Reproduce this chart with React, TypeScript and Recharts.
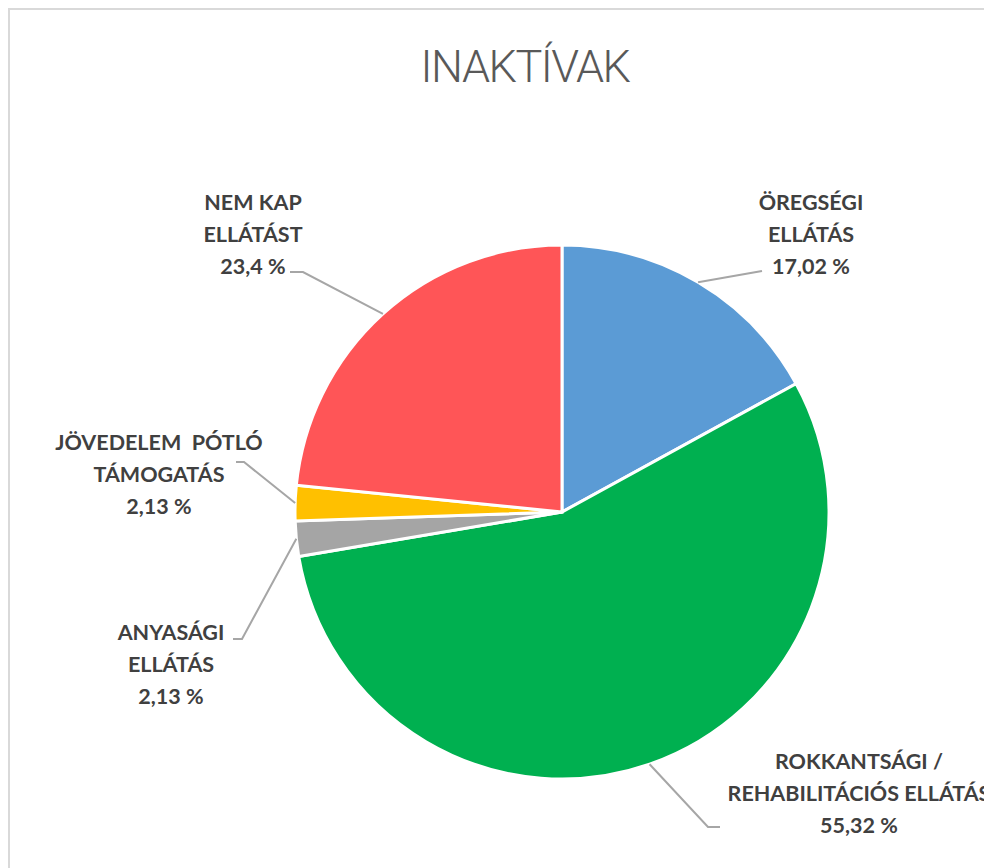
import { PieChart, Pie, Cell } from "recharts";

const categories = [
  ["ÖREGSÉGI", "ELLÁTÁS"],
  ["ROKKANTSÁGI /", "REHABILITÁCIÓS ELLÁTÁS"],
  ["ANYASÁGI", "ELLÁTÁS"],
  ["JÖVEDELEM  PÓTLÓ", "TÁMOGATÁS"],
  ["NEM KAP", "ELLÁTÁST"],
];
const values = [17.02, 55.32, 2.13, 2.13, 23.4];
const valueLabels = ["17,02 %", "55,32 %", "2,13 %", "2,13 %", "23,4 %"];

const COLORS = ["#5B9BD5", "#00B050", "#A5A5A5", "#FFC000", "#FF5557"];

// label block (first baseline, relative to pie centre) and leader elbow points
const LABEL_LAYOUT = [
  { dx: 249, dy: -302, line: [[200, -241]] },
  { dx: 297, dy: 257, line: [[146, 315], [158, 315]] },
  { dx: -391, dy: 128, line: [[-320, 127], [-329, 127]] },
  { dx: -403, dy: -62, line: [[-318, -50], [-326, -50]] },
  { dx: -309, dy: -302, line: [[-259, -240], [-272, -240]] },
];

const data = values.map((v, i) => ({ name: categories[i].join(" "), value: v }));

const RADIAN = Math.PI / 180;
const CX = 562;
const CY = 512;

function renderLabel(props: any) {
  const { cx, cy, midAngle, outerRadius, index } = props;
  const lay = LABEL_LAYOUT[index];
  const ex = cx + outerRadius * Math.cos(-midAngle * RADIAN);
  const ey = cy + outerRadius * Math.sin(-midAngle * RADIAN);
  const pts = [[ex, ey], ...lay.line.map(([x, y]) => [cx + x, cy + y])];
  const lines = [...categories[index], valueLabels[index]];
  const tx = cx + lay.dx;
  const ty = cy + lay.dy;
  return (
    <g key={`lbl-${index}`}>
      <polyline
        points={pts.map((p) => p.join(",")).join(" ")}
        fill="none"
        stroke="#A6A6A6"
        strokeWidth={2}
      />
      <text
        x={tx}
        y={ty}
        textAnchor="middle"
        fill="#404040"
        fontFamily="Lato, 'Open Sans', sans-serif"
        fontWeight={700}
        fontSize={21.5}
      >
        {lines.map((l, j) => (
          <tspan key={j} x={tx} y={ty + j * 32} style={{ whiteSpace: "pre" }}>
            {l}
          </tspan>
        ))}
      </text>
    </g>
  );
}

export default function App() {
  return (
    <div
      style={{
        position: "relative",
        width: 984,
        height: 860,
        overflow: "hidden",
        boxSizing: "border-box",
        borderTop: "2px solid #D9D9D9",
        borderLeft: "2px solid #D9D9D9",
        background: "#fff",
      }}
    >
      <div style={{ position: "absolute", left: -10, top: -10 }}>
        <PieChart width={992} height={868} margin={{ top: 0, right: 0, bottom: 0, left: 0 }}>
          <text
            x={525}
            y={82}
            textAnchor="middle"
            fill="#595959"
            fontFamily="Roboto, sans-serif"
            fontWeight={300}
            fontSize={45}
            letterSpacing={-1.5}
          >
            INAKTÍVAK
          </text>
          <Pie
            data={data}
            dataKey="value"
            nameKey="name"
            cx={CX}
            cy={CY}
            outerRadius={267}
            startAngle={90}
            endAngle={-270}
            stroke="#ffffff"
            strokeWidth={3}
            label={renderLabel}
            labelLine={false}
            isAnimationActive={false}
          >
            {data.map((d, i) => (
              <Cell key={d.name} fill={COLORS[i]} />
            ))}
          </Pie>
        </PieChart>
      </div>
    </div>
  );
}
